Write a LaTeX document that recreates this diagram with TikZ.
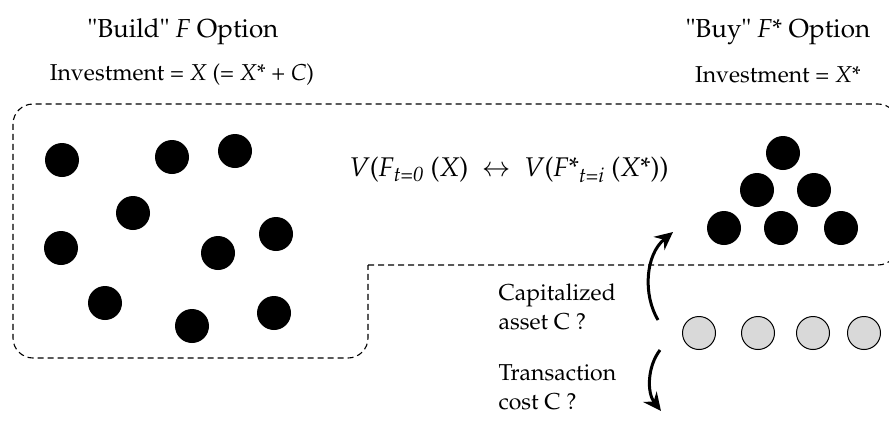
\documentclass[tikz,border=0pt]{standalone}
\usepackage[T1]{fontenc}
\usepackage{mathpazo}
\usetikzlibrary{arrows.meta}
\tikzset{
  dot/.style={circle, fill=black, inner sep=0pt, minimum size=34pt},
  graydot/.style={circle, draw=black, fill=black!15, line width=1pt, inner sep=0pt, minimum size=33pt},
  ttl/.style={font=\fontsize{26}{30}\selectfont},
  inv/.style={font=\fontsize{23}{27}\selectfont},
  lbl/.style={align=left, anchor=west, font=\fontsize{23}{29}\selectfont},
  curvearrow/.style={line width=3pt, -{Stealth[length=18pt, width=17pt, inset=6pt]}},
}

\begin{document}
\begin{tikzpicture}[x=1pt, y=-1pt]
  \clip (0,0) rectangle (889,421);
  % outline of the build option
  \draw[dash pattern=on 6pt off 4pt, line width=1.1pt] (368,265) [rounded corners=20pt]
    -- (898,265) -- (898,104) -- (13,104) -- (13,358) -- (368,358) -- (368,265);
  % headings
  \node[ttl] (buildttl) at (183,32) {\textquotedbl Build\textquotedbl{} \textit{F} Option};
  \node[inv] (buildinv) at (182,75) {Investment = \textit{X} (= \textit{X}* + \textit{C})};
  \node[ttl] (buyttl) at (778,32) {\textquotedbl Buy\textquotedbl{} \textit{F}* Option};
  \node[inv] (buyinv) at (778,75) {Investment = \textit{X}*};
  \node[font=\fontsize{27}{31}\selectfont] (value) at (509,170)
    {\textit{V}(\textit{F\textsubscript{t=0}} (\textit{X}) \ $\leftrightarrow$ \ \textit{V}(\textit{F}*\textsubscript{\textit{t=i}} (\textit{X}*))};
  % build dots
  \foreach \n/\x/\y in {1/62/160, 2/172/157, 3/235/151, 4/133/213, 5/61/248,
                        6/218/253, 7/276/234, 8/105/303, 9/192/326, 10/274/313}
    \node[dot] (b\n) at (\x,\y) {};
  % buy dots
  \foreach \n/\x/\y in {1/783/153, 2/757/190, 3/814/190, 4/724/228, 5/781/228, 6/841/228}
    \node[dot] (y\n) at (\x,\y) {};
  % C dots
  \foreach \n/\x in {1/699, 2/758, 3/813, 4/864}
    \node[graydot] (c\n) at (\x,333) {};
  % arrows
  \coordinate (capfrom) at (658,320);
  \coordinate (capto) at (673,232);
  \coordinate (costfrom) at (660,350);
  \coordinate (costto) at (661,411);
  \draw[curvearrow] (capfrom) .. controls (643,295) and (645,255) .. (capto);
  \draw[curvearrow] (costfrom) .. controls (647,367) and (647,393) .. (costto);
  \node[lbl] (caplbl) at (495,307) {Capitalized\\asset C ?};
  \node[lbl] (costlbl) at (495,387) {Transaction\\cost C ?};
\end{tikzpicture}
\end{document}
